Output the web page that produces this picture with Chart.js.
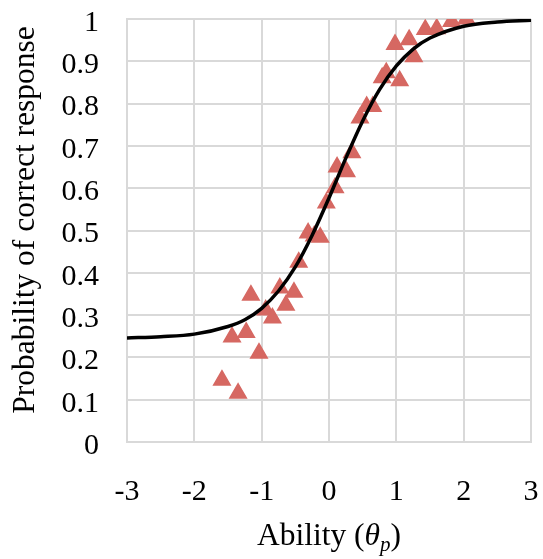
<!DOCTYPE html>
<html>
<head>
<meta charset="utf-8">
<script src="https://cdn.jsdelivr.net/npm/chart.js@4"></script>
<style>
  html,body{margin:0;padding:0;background:#fff;}
  #wrap{width:543px;height:559px;position:relative;}
</style>
</head>
<body>
<div id="wrap"><canvas id="chart"></canvas></div>
<script>
// observed responses (triangles)
const abilityX = [-1.59,-1.35,-1.44,-1.23,-1.16,-1.04,-0.94,-0.84,-0.73,-0.64,-0.52,-0.45,-0.31,-0.22,-0.13,-0.04,0.09,0.12,0.26,0.34,0.46,0.56,0.65,0.79,0.85,0.98,1.05,1.19,1.26,1.43,1.60,1.82,2.04];
const observedP = [0.146,0.115,0.248,0.259,0.347,0.210,0.312,0.293,0.364,0.323,0.354,0.425,0.494,0.487,0.484,0.565,0.601,0.650,0.639,0.684,0.766,0.793,0.793,0.861,0.873,0.940,0.854,0.951,0.911,0.975,0.977,0.994,1.0];

// item characteristic curve
const curveX = [-3,-2.5,-2,-1.5,-1.25,-1,-0.75,-0.5,-0.25,0,0.25,0.5,0.75,1,1.25,1.5,2,2.5,3];
const curveP = [0.246,0.249,0.255,0.273,0.289,0.316,0.357,0.414,0.489,0.577,0.671,0.759,0.833,0.889,0.929,0.955,0.983,0.993,0.997];

const xTickVals = [-3,-2,-1,0,1,2,3];
const xTickLabels = ['-3','-2','-1','0','1','2','3'];
const yTickVals = [0,0.1,0.2,0.3,0.4,0.5,0.6,0.7,0.8,0.9,1];
const yTickLabels = ['0','0.1','0.2','0.3','0.4','0.5','0.6','0.7','0.8','0.9','1'];

const FONT = '"Liberation Serif","Times New Roman",serif';
const gridColor = '#d9d9d9';

const axisTitles = {
  id:'axisTitles',
  afterDraw(chart){
    const ctx=chart.ctx, a=chart.chartArea;
    ctx.save();
    ctx.fillStyle='#000';
    // y title
    ctx.font='31.5px '+FONT;
    ctx.textAlign='center';
    ctx.textBaseline='alphabetic';
    ctx.translate(34,220);
    ctx.rotate(-Math.PI/2);
    ctx.fillText('Probability of correct response',0,0);
    ctx.restore();

    // x title: Ability (θp) with italic theta and subscript p
    ctx.save();
    ctx.fillStyle='#000';
    ctx.textBaseline='alphabetic';
    ctx.textAlign='left';
    const parts=[
      {t:'Ability (',f:'31.5px '+FONT,dy:0},
      {t:'θ',f:'italic 31.5px '+FONT,dy:0},
      {t:'p',f:'italic 21px '+FONT,dy:6},
      {t:')',f:'31.5px '+FONT,dy:0}
    ];
    let w=0;
    parts.forEach(p=>{ctx.font=p.f; p.w=ctx.measureText(p.t).width; w+=p.w;});
    let x=(a.left+a.right)/2-w/2;
    const base=545;
    parts.forEach(p=>{ctx.font=p.f; ctx.fillText(p.t,x,base+p.dy); x+=p.w;});
    ctx.restore();
  }
};

new Chart(document.getElementById('chart'),{
  type:'scatter',
  data:{
    datasets:[
      {
        label:'ICC',
        data:curveX.map((x,i)=>({x:x,y:curveP[i]})),
        showLine:true,
        borderColor:'#000',
        borderWidth:3.5,
        pointRadius:0,
        cubicInterpolationMode:'monotone',
        order:0
      },
      {
        label:'Observed',
        data:abilityX.map((x,i)=>({x:x,y:observedP[i]})),
        pointStyle:'triangle',
        pointRadius:9.5,
        backgroundColor:'rgb(214,104,98)',
        borderColor:'rgb(214,104,98)',
        borderWidth:1.5,
        order:1
      }
    ]
  },
  options:{
    responsive:true,
    maintainAspectRatio:false,
    animation:false,
    layout:{padding:{left:0,right:12,top:19,bottom:0}},
    plugins:{legend:{display:false},tooltip:{enabled:false}},
    scales:{
      x:{
        type:'linear',min:-3,max:3,
        afterBuildTicks:s=>{s.ticks=xTickVals.map(v=>({value:v}));},
        afterFit:s=>{s.height=117; s.paddingLeft=0; s.paddingRight=0;},
        grid:{color:gridColor,lineWidth:2,drawTicks:false},
        border:{color:gridColor,width:2},
        ticks:{
          padding:32,color:'#000',maxRotation:0,
          font:{family:FONT,size:30},
          callback:v=>xTickLabels[xTickVals.indexOf(v)]
        }
      },
      y:{
        type:'linear',min:0,max:1,
        afterBuildTicks:s=>{s.ticks=yTickVals.map(v=>({value:v}));},
        afterFit:s=>{s.width=127; s.paddingTop=0; s.paddingBottom=0;},
        grid:{color:gridColor,lineWidth:2,drawTicks:false},
        border:{color:gridColor,width:2},
        ticks:{
          padding:28,color:'#000',labelOffset:4,
          font:{family:FONT,size:30},
          callback:v=>yTickLabels[yTickVals.indexOf(v)]
        }
      }
    }
  },
  plugins:[axisTitles]
});
</script>
</body>
</html>
